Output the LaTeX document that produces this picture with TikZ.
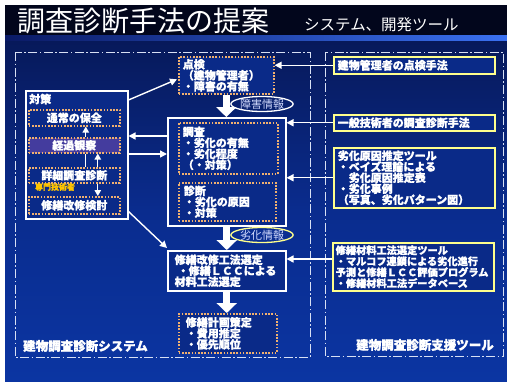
\documentclass[tikz,border=0pt]{standalone}
\usepackage{fontspec}
\setmainfont{Noto Sans CJK JP}[BoldFeatures={FakeBold=1.2}]
\usetikzlibrary{arrows.meta,shapes.geometric,calc}
\definecolor{bgtop}{HTML}{07195A}
\definecolor{bgmid}{HTML}{0A2C8E}
\definecolor{bgbot}{HTML}{0B35A2}
\definecolor{boxfill}{HTML}{0A2A88}
\definecolor{dotcol}{HTML}{F0B070}
\definecolor{ylw}{HTML}{FFFF8C}
\definecolor{purp}{HTML}{443C9E}
\definecolor{lbl}{HTML}{D4DCFF}
\definecolor{orng}{HTML}{FFC400}
\definecolor{framecol}{HTML}{D8E0F4}
\definecolor{titlebar}{HTML}{02061C}
\definecolor{stripL}{HTML}{0A1A66}
\definecolor{stripR}{HTML}{3A70F0}
\begin{document}
\begin{tikzpicture}[x=1pt,y=-1pt,
  txt/.style={text=white,font=\bfseries\fontsize{11}{11}\selectfont},
  dotbox/.style={txt,draw=dotcol,line width=1.6pt,dash pattern=on 1.6pt off 1.6pt,fill=boxfill,inner sep=0pt,anchor=north west},
  wbox/.style={draw=white,line width=1.5pt,fill=boxfill,inner sep=0pt,anchor=north west},
  ybox/.style={txt,draw=ylw,line width=1.5pt,fill=boxfill,inner xsep=4pt,inner ysep=0pt,align=left,anchor=north west},
  arr/.style={draw=white,line width=1.4pt,-{Triangle[length=7pt,width=7pt]}},
  arrsm/.style={draw=white,line width=1.3pt,-{Triangle[length=6pt,width=6.5pt]}},
  wline/.style={draw=white,line width=1.3pt},
  bigarr/.style={draw=white,line width=7pt,-{Triangle[length=10pt,width=20pt]}},
  frame/.style={draw=framecol,line width=1pt,dash pattern=on 9pt off 2.5pt on 1.5pt off 2.5pt},
  tag/.style={ellipse,line width=1.3pt,inner sep=0pt,minimum width=59pt,minimum height=15pt,text=lbl,font=\fontsize{11}{11}\selectfont},
  biglbl/.style={text=white,font=\bfseries\fontsize{12.5}{12.5}\selectfont,inner sep=0pt},
]
\useasboundingbox (0,0) rectangle (507,381);
\fill[white] (0,0) rectangle (507,381);
% background
\shade[top color=bgtop,bottom color=bgbot,middle color=bgmid] (5,40) rectangle (507,381);
\fill[titlebar] (5,5) rectangle (507,35);
\shade[left color=stripL,right color=stripR] (5,35) rectangle (507,40);
% title
\node[anchor=west,text=white,font=\fontsize{28}{28}\selectfont,inner sep=0pt] (title) at (17,21) {調査診断手法の提案};
\node[anchor=west,text=white,font=\fontsize{15.5}{15.5}\selectfont,inner sep=0pt] (subtitle) at (304,25) {システム、開発ツール};
% frames
\draw[frame] (15,52) rectangle (310,357);
\draw[frame] (325,52) rectangle (503,356);
\node[biglbl,anchor=west] (syslbl) at (23,346) {建物調査診断システム};
\node[biglbl,anchor=east] (toollbl) at (494,345) {建物調査診断支援ツール};
% left: taisaku
\node[wbox,minimum width=102pt,minimum height=128pt] (taisaku) at (25,90) {};
\node[txt,anchor=west,inner sep=0pt] (taisakulbl) at (29,99) {対策};
\node[dotbox,minimum width=91pt,minimum height=16pt] (tsujo) at (28,109) {通常の保全};
\node[dotbox,fill=purp,minimum width=91pt,minimum height=15pt] (keika) at (28,137) {経過観察};
\node[dotbox,minimum width=91pt,minimum height=15pt] (shousai) at (28,167) {詳細調査診断};
\node[text=orng,font=\bfseries\fontsize{8}{8}\selectfont,inner sep=0pt] (senmon) at (55,187) {専門技術者};
\node[dotbox,minimum width=91pt,minimum height=17pt] (kaishu) at (28,196) {修繕改修検討};
\draw[wline] ([xshift=11.5pt]shousai.north) -- ([xshift=11.5pt]keika.south);
\draw[arrsm] ([xshift=11.5pt]keika.north) -- ([xshift=11.5pt]tsujo.south);
\draw[arrsm] ([xshift=23.5pt]shousai.north) -- ([xshift=23.5pt]keika.south);
\draw[arrsm] ([xshift=23.5pt]shousai.south) -- ([xshift=23.5pt]kaishu.north);
% middle
\node[dotbox,text width=87pt,inner xsep=4pt,minimum height=37pt,align=left] (tenken) at (178,56) {点検\\（建物管理者）\\・障害の有無};
\node[wbox,minimum width=118pt,minimum height=108pt] (bigbox) at (167,117) {};
\node[dotbox,text width=91pt,inner xsep=4pt,minimum height=51pt,align=left] (chosa) at (178,122) {調査\\・劣化の有無\\・劣化程度\\（・対策）};
\node[dotbox,text width=87pt,inner xsep=5pt,minimum height=38pt,align=left] (shindan) at (178,182) {診断\\・劣化の原因\\・対策};
\node[wbox,txt,text width=104pt,inner xsep=7pt,minimum height=40pt,align=left] (shuzen) at (167,250) {修繕改修工法選定\\\hspace*{3pt}・修繕ＬＣＣによる\\材料工法選定};
\node[dotbox,text width=84pt,inner xsep=7pt,minimum height=39pt,align=left] (keikaku) at (178,313) {修繕計画策定\\・費用推定\\・優先順位};
\node[tag,draw=white] (shogai) at (262,104) {障害情報};
\node[tag,draw=ylw] (rekka) at (262,235) {劣化情報};
% right
\node[ybox,text width=153pt,minimum height=17pt] (y1) at (333,56) {建物管理者の点検手法};
\node[ybox,text width=153pt,minimum height=16pt] (y2) at (333,114) {一般技術者の調査診断手法};
\node[ybox,text width=153pt,minimum height=60pt] (y3) at (333,147) {劣化原因推定ツール\\・ベイズ理論による\\　劣化原因推定表\\・劣化事例\\（写真、劣化パターン図）};
\node[ybox,text width=155pt,inner xsep=3pt,minimum height=48pt,font=\bfseries\fontsize{10.2}{11}\selectfont] (y4) at (332,242) {修繕材料工法選定ツール\\・マルコフ連鎖による劣化進行\\予測と修繕ＬＣＣ評価プログラム\\・修繕材料工法データベース};
% connectors
\coordinate (h136) at (0,136);
\coordinate (h154) at (0,154);
\draw[arr] ($(taisaku.north east)+(0,10)$) -- ($(tenken.west)+(-1,4)$);
\draw[arr] (bigbox.west |- h136) -- (taisaku.east |- h136);
\draw[arr] (taisaku.east |- h154) -- (bigbox.west |- h154);
\draw[arr] ($(taisaku.south east)+(0,-8)$) -- ($(shuzen.north west)+(0,-2)$);
\draw[arr] (y1.west) -- (tenken.east |- y1.west);
\draw[arr] (y2.west) -- (bigbox.east |- y2.west);
\draw[arr] (y3.west) -- (bigbox.east |- y3.west);
\coordinate (h259) at ($(y4.north west)+(0,17)$);
\draw[arr] (h259) -- (shuzen.east |- h259);
\draw[bigarr] (tenken.south) -- (tenken.south |- bigbox.north);
\draw[bigarr] (bigbox.south) -- (bigbox.south |- shuzen.north);
\draw[bigarr] (shuzen.south) -- (shuzen.south |- keikaku.north);
\end{tikzpicture}
\end{document}
